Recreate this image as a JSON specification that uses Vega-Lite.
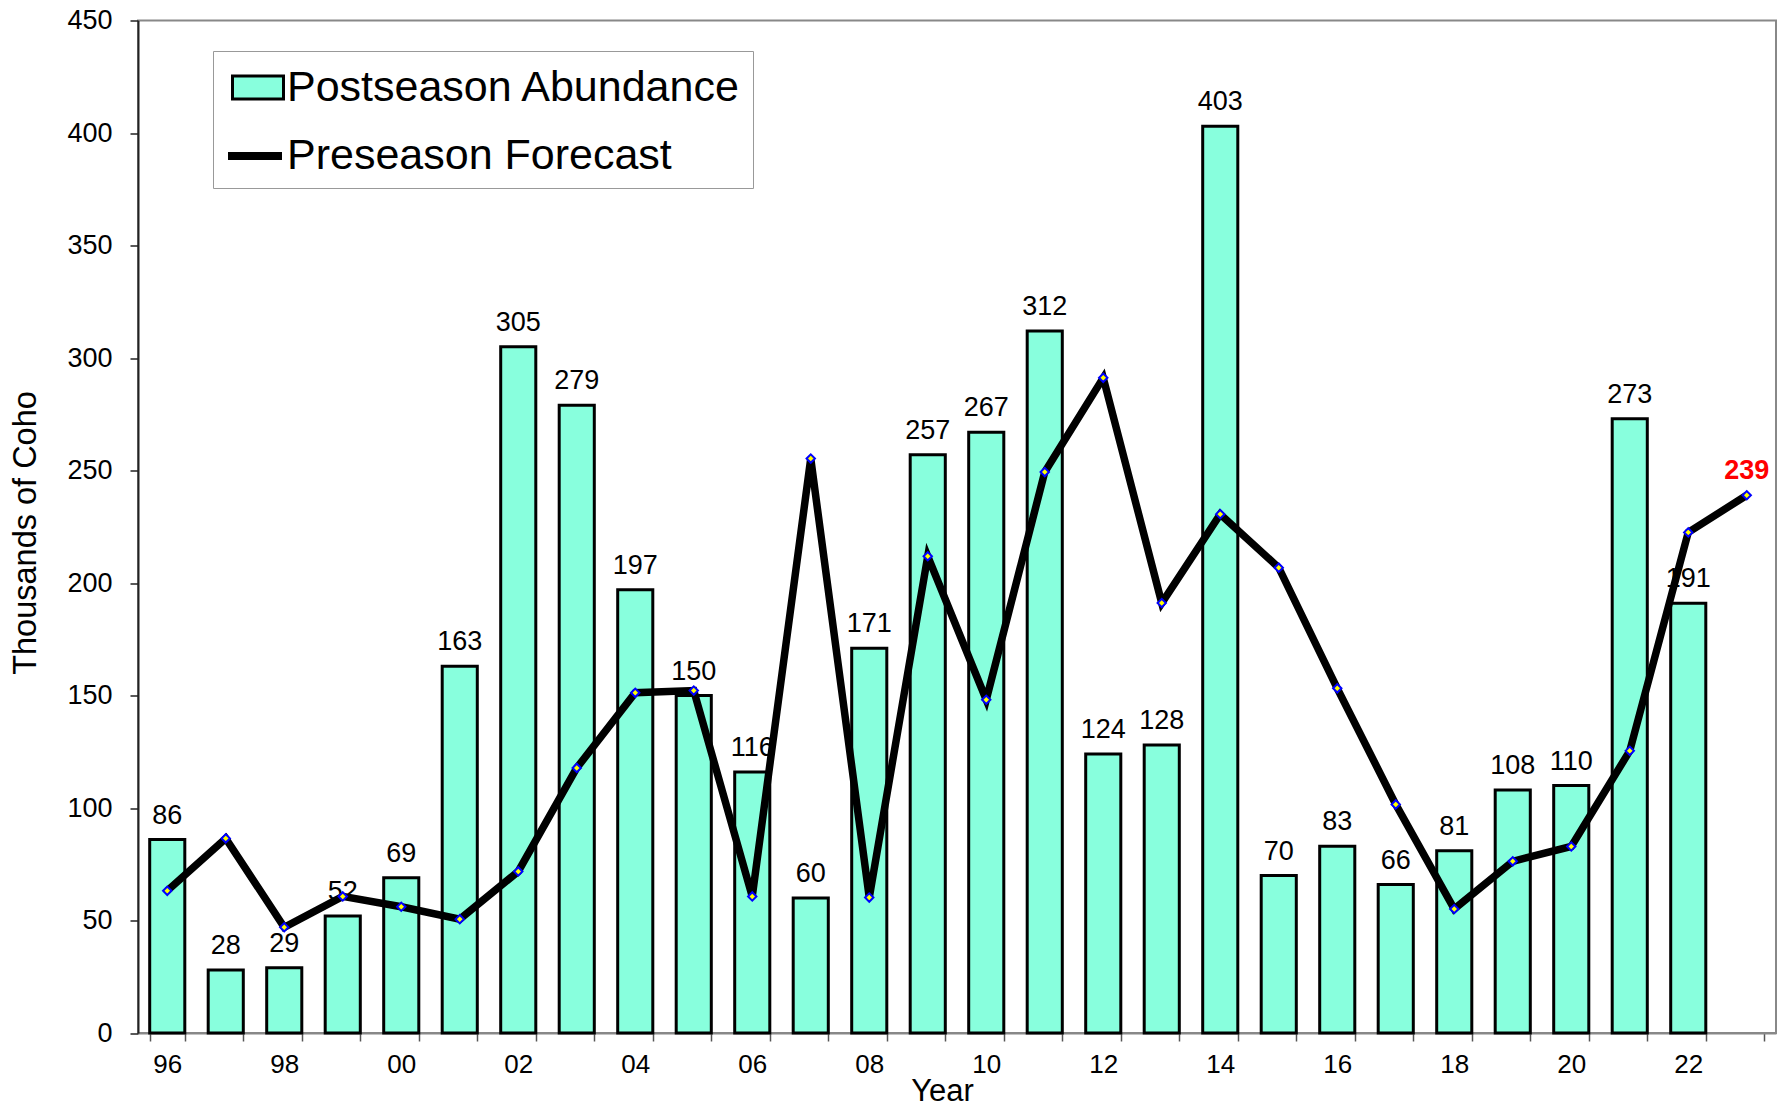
{
  "$schema": "https://vega.github.io/schema/vega-lite/v6.json",
  "width": 1638,
  "height": 1012.5,
  "autosize": {"type": "none"},
  "padding": {"left": 138, "top": 20.5, "right": 8, "bottom": 77},
  "background": "white",
  "config": {
    "font": "Liberation Sans",
    "view": {"stroke": "#888888", "strokeWidth": 2},
    "axis": {"labelColor": "black", "titleColor": "black", "titleFontWeight": "normal", "grid": false, "labelFont": "Liberation Sans", "titleFont": "Liberation Sans"},
    "axisY": {
      "domainColor": "#222222",
      "domainWidth": 2,
      "tickColor": "#222222",
      "tickWidth": 1.5,
      "tickSize": 8,
      "labelFontSize": 27,
      "labelPadding": 18,
      "titleFontSize": 32.5,
      "titleX": -113,
      "titleY": 512,
      "titleAngle": -90,
      "titleBaseline": "middle"
    },
    "legend": {"labelFont": "Liberation Sans", "labelColor": "black"}
  },
  "data": {
    "values": [
      {"Year": 1996, "Abundance": 86, "Forecast": 63.2},
      {"Year": 1997, "Abundance": 28, "Forecast": 86.5},
      {"Year": 1998, "Abundance": 29, "Forecast": 47.0},
      {"Year": 1999, "Abundance": 52, "Forecast": 60.7},
      {"Year": 2000, "Abundance": 69, "Forecast": 56.1},
      {"Year": 2001, "Abundance": 163, "Forecast": 50.6},
      {"Year": 2002, "Abundance": 305, "Forecast": 71.8},
      {"Year": 2003, "Abundance": 279, "Forecast": 117.8},
      {"Year": 2004, "Abundance": 197, "Forecast": 151.2},
      {"Year": 2005, "Abundance": 150, "Forecast": 152.2},
      {"Year": 2006, "Abundance": 116, "Forecast": 60.7},
      {"Year": 2007, "Abundance": 60, "Forecast": 255.3},
      {"Year": 2008, "Abundance": 171, "Forecast": 60.2},
      {"Year": 2009, "Abundance": 257, "Forecast": 211.9},
      {"Year": 2010, "Abundance": 267, "Forecast": 148.1},
      {"Year": 2011, "Abundance": 312, "Forecast": 249.3},
      {"Year": 2012, "Abundance": 124, "Forecast": 291.2},
      {"Year": 2013, "Abundance": 128, "Forecast": 191.1},
      {"Year": 2014, "Abundance": 403, "Forecast": 230.6},
      {"Year": 2015, "Abundance": 70, "Forecast": 206.8},
      {"Year": 2016, "Abundance": 83, "Forecast": 153.2},
      {"Year": 2017, "Abundance": 66, "Forecast": 101.6},
      {"Year": 2018, "Abundance": 81, "Forecast": 55.1},
      {"Year": 2019, "Abundance": 108, "Forecast": 76.3},
      {"Year": 2020, "Abundance": 110, "Forecast": 82.9},
      {"Year": 2021, "Abundance": 273, "Forecast": 125.4},
      {"Year": 2022, "Abundance": 191, "Forecast": 222.5},
      {"Year": 2023, "Abundance": null, "Forecast": 239}
    ]
  },
  "encoding": {
    "x": {
      "field": "Year",
      "type": "ordinal",
      "scale": {"paddingInner": 0.4, "paddingOuter": 0.2},
      "axis": {
        "title": "Year",
        "labelExpr": "datum.value % 2 == 0 ? substring(toString(datum.value), 2, 4) : ''",
        "labelAngle": 0,
        "labelOverlap": false,
        "tickBand": "extent",
        "domainColor": "#888888",
        "domainWidth": 2,
        "tickColor": "#555555",
        "tickWidth": 1.5,
        "tickSize": 8,
        "labelFontSize": 26,
        "labelPadding": 10,
        "titleFontSize": 31,
        "titleX": 804,
        "titleY": 58,
        "titleBaseline": "middle"
      }
    }
  },
  "layer": [
    {
      "mark": {"type": "bar", "stroke": "black", "strokeWidth": 3},
      "encoding": {
        "y": {
          "field": "Abundance",
          "type": "quantitative",
          "title": "Thousands of Coho",
          "scale": {"domain": [0, 450], "nice": false},
          "axis": {"values": [0, 50, 100, 150, 200, 250, 300, 350, 400, 450]}
        },
        "fill": {
          "datum": "Postseason Abundance",
          "scale": {"range": ["#88ffdd"]},
          "legend": {
            "title": null,
            "orient": "none",
            "legendX": 75,
            "legendY": 30.5,
            "padding": 10,
            "strokeColor": "#999999",
            "labelFontSize": 43,
            "labelOffset": 11,
            "symbolSize": 2500,
            "symbolType": "M-0.68,-0.46L1.36,-0.46L1.36,0.46L-0.68,0.46ZM19.48,3.36",
            "symbolStrokeColor": "black",
            "symbolStrokeWidth": 3,
            "labelLimit": 800
          }
        }
      }
    },
    {
      "mark": {"type": "text", "dy": -16, "baseline": "alphabetic", "fontSize": 27, "color": "black"},
      "encoding": {
        "y": {"field": "Abundance", "type": "quantitative", "title": "Thousands of Coho", "axis": {"values": [0, 50, 100, 150, 200, 250, 300, 350, 400, 450]}},
        "text": {"field": "Abundance", "type": "quantitative"}
      }
    },
    {
      "mark": {"type": "line", "strokeWidth": 7.5},
      "encoding": {
        "y": {"field": "Forecast", "type": "quantitative", "title": "Thousands of Coho", "axis": {"values": [0, 50, 100, 150, 200, 250, 300, 350, 400, 450]}},
        "stroke": {
          "datum": "Preseason Forecast",
          "scale": {"range": ["black"]},
          "legend": {
            "title": null,
            "orient": "none",
            "legendX": 75,
            "legendY": 96.5,
            "padding": 10,
            "labelFontSize": 43,
            "labelOffset": 6,
            "symbolSize": 2500,
            "symbolType": "M-0.96,0L1.2,0",
            "symbolStrokeWidth": 8,
            "labelLimit": 800
          }
        }
      }
    },
    {
      "mark": {"type": "point", "shape": "diamond", "filled": true, "fill": "yellow", "stroke": "blue", "strokeWidth": 2, "size": 70, "opacity": 1},
      "encoding": {
        "y": {"field": "Forecast", "type": "quantitative", "title": "Thousands of Coho", "axis": {"values": [0, 50, 100, 150, 200, 250, 300, 350, 400, 450]}}
      }
    },
    {
      "transform": [{"filter": "datum.Year == 2023"}],
      "mark": {"type": "text", "dy": -16, "baseline": "alphabetic", "fontSize": 27, "fontWeight": "bold", "color": "red"},
      "encoding": {
        "y": {"field": "Forecast", "type": "quantitative", "title": "Thousands of Coho", "axis": {"values": [0, 50, 100, 150, 200, 250, 300, 350, 400, 450]}},
        "text": {"field": "Forecast", "type": "quantitative"}
      }
    }
  ]
}
